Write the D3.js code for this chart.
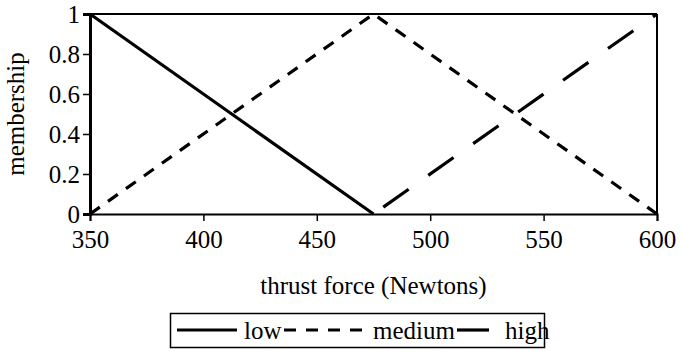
<!DOCTYPE html>
<html><head><meta charset="utf-8">
<script src="https://cdn.jsdelivr.net/npm/d3@7"></script>
<style>body{margin:0;background:#fff}svg{display:block}text{font-family:"Liberation Serif","Times New Roman",serif !important;fill:#000}</style>
</head><body><svg id="c" width="682" height="351"></svg>
<script>
const xTicks = [350, 400, 450, 500, 550, 600];
const yTicks = [0, 0.2, 0.4, 0.6, 0.8, 1];
const yTickLabels = ["0", "0.2", "0.4", "0.6", "0.8", "1"];
const lowX = [350, 475];
const lowY = [1, 0];
const mediumX = [350, 475, 600];
const mediumY = [0, 1, 0];
const highX = [475, 600];
const highY = [0, 1];
const seriesNames = ["low", "medium", "high"];

const svg = d3.select("#c");
const m = {l: 90, r: 25, t: 14, b: 137};
const W = 682, H = 351;
const x = d3.scaleLinear().domain([350, 600]).range([m.l, W - m.r]);
const y = d3.scaleLinear().domain([0, 1]).range([H - m.b, m.t]);
const fs = 25;
const serif = "'Liberation Serif', 'Times New Roman', serif";

// frame
svg.append("line").attr("x1", x(350)).attr("x2", x(600)).attr("y1", y(1)).attr("y2", y(1)).attr("stroke", "#000").attr("stroke-width", 2);
svg.append("line").attr("x1", x(600)).attr("x2", x(600)).attr("y1", y(1)).attr("y2", y(0)).attr("stroke", "#000").attr("stroke-width", 2);

const xa = svg.append("g").attr("transform", `translate(0,${y(0)})`)
  .call(d3.axisBottom(x).tickValues(xTicks).tickSize(7).tickPadding(9).tickFormat(d3.format("d")));
const ya = svg.append("g").attr("transform", `translate(${x(350)},0)`)
  .call(d3.axisLeft(y).tickValues(yTicks).tickSize(7).tickPadding(3).tickFormat((d, i) => yTickLabels[i]));
[xa, ya].forEach(a => {
  a.attr("font-family", serif).attr("font-size", fs);
  a.select(".domain").attr("stroke", "#000");
  a.selectAll(".tick line").attr("stroke", "#000").attr("stroke-width", 1.5);
  a.selectAll("text").style("font-family", serif).style("font-size", fs + "px").attr("fill", "#000");
});
xa.select(".domain").attr("stroke-width", 2);
ya.select(".domain").attr("stroke-width", 3);
ya.selectAll("text").attr("dy", "0.34em");

const line = d3.line().x(d => x(d[0])).y(d => y(d[1]));
const styles = {low: null, medium: "12,10", high: "31,24"};
const data = {
  low: lowX.map((v, i) => [v, lowY[i]]),
  medium: mediumX.map((v, i) => [v, mediumY[i]]),
  high: highX.map((v, i) => [v, highY[i]])
};
seriesNames.forEach(n => {
  svg.append("path").datum(data[n]).attr("d", line).attr("fill", "none")
    .attr("stroke", "#000").attr("stroke-width", 3.2)
    .attr("stroke-dasharray", styles[n]).attr("stroke-dashoffset", n === "high" ? -12 : 0);
});

svg.append("text").attr("x", x(475)).attr("y", 294).attr("text-anchor", "middle")
  .style("font-size", fs + "px").text("thrust force (Newtons)");
svg.append("text").attr("transform", `translate(24,${(y(0) + y(1)) / 2}) rotate(-90)`)
  .attr("text-anchor", "middle").style("font-size", fs + "px").text("membership");

// legend
const lg = svg.append("g");
lg.append("rect").attr("x", 170.5).attr("y", 313.5).attr("width", 374).attr("height", 34)
  .attr("fill", "none").attr("stroke", "#000").attr("stroke-width", 1.5);
const items = [
  {n: "low", x1: 177, x2: 237, tx: 244},
  {n: "medium", x1: 284, x2: 368, tx: 373},
  {n: "high", x1: 457, x2: 489, tx: 505}
];
items.forEach(it => {
  lg.append("line").attr("x1", it.x1).attr("x2", it.x2).attr("y1", 330).attr("y2", 330)
    .attr("stroke", "#000").attr("stroke-width", 3.2).attr("stroke-dasharray", it.n === "high" ? null : styles[it.n]);
  lg.append("text").attr("x", it.tx).attr("y", 339).style("font-size", fs + "px").text(it.n);
});
</script></body></html>
